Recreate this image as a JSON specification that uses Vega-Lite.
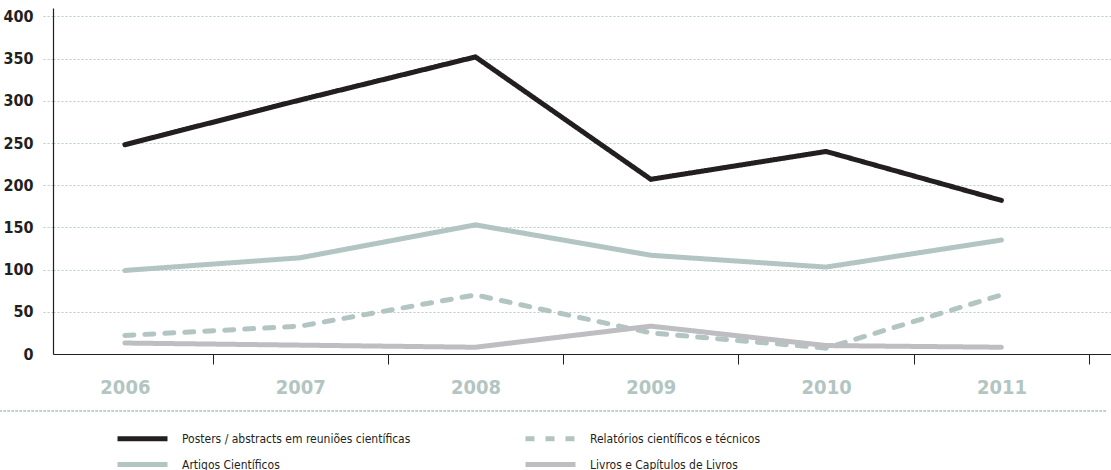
{
  "$schema": "https://vega.github.io/schema/vega-lite/v6.json",
  "width": 1058,
  "height": 346,
  "autosize": "none",
  "padding": {"left": 53, "top": 8, "right": 0, "bottom": 116},
  "background": "white",
  "config": {"view": {"stroke": null}, "font": "DejaVu Sans Condensed, Liberation Sans"},
  "data": {"values": [
    {"year": 2006, "series": "Posters / abstracts em reuniões científicas", "value": 248},
    {"year": 2007, "series": "Posters / abstracts em reuniões científicas", "value": 301},
    {"year": 2008, "series": "Posters / abstracts em reuniões científicas", "value": 352},
    {"year": 2009, "series": "Posters / abstracts em reuniões científicas", "value": 207},
    {"year": 2010, "series": "Posters / abstracts em reuniões científicas", "value": 240},
    {"year": 2011, "series": "Posters / abstracts em reuniões científicas", "value": 182},
    {"year": 2006, "series": "Artigos Científicos", "value": 99},
    {"year": 2007, "series": "Artigos Científicos", "value": 114},
    {"year": 2008, "series": "Artigos Científicos", "value": 153},
    {"year": 2009, "series": "Artigos Científicos", "value": 117},
    {"year": 2010, "series": "Artigos Científicos", "value": 103},
    {"year": 2011, "series": "Artigos Científicos", "value": 135},
    {"year": 2006, "series": "Relatórios científicos e técnicos", "value": 22},
    {"year": 2007, "series": "Relatórios científicos e técnicos", "value": 33},
    {"year": 2008, "series": "Relatórios científicos e técnicos", "value": 70},
    {"year": 2009, "series": "Relatórios científicos e técnicos", "value": 25},
    {"year": 2010, "series": "Relatórios científicos e técnicos", "value": 7},
    {"year": 2011, "series": "Relatórios científicos e técnicos", "value": 70},
    {"year": 2006, "series": "Livros e Capítulos de Livros", "value": 13},
    {"year": 2007, "series": "Livros e Capítulos de Livros", "value": 10.5},
    {"year": 2008, "series": "Livros e Capítulos de Livros", "value": 8},
    {"year": 2009, "series": "Livros e Capítulos de Livros", "value": 33},
    {"year": 2010, "series": "Livros e Capítulos de Livros", "value": 10},
    {"year": 2011, "series": "Livros e Capítulos de Livros", "value": 8}
  ]},
  "layer": [
    {
      "mark": {"type": "rule", "strokeDash": [2, 2], "color": "#c3cfcd", "strokeWidth": 1},
      "encoding": {
        "x": {"datum": 2005.287, "type": "quantitative"},
        "x2": {"datum": 2011.607},
        "y": {"datum": -67.5, "type": "quantitative"}
      }
    },
    {
      "mark": {"type": "line", "strokeWidth": 5, "strokeCap": "round", "strokeJoin": "miter", "clip": false},
      "encoding": {
        "x": {
          "field": "year", "type": "quantitative",
          "scale": {"domain": [2005.59, 2011.625], "nice": false, "zero": false},
          "axis": {
            "title": null,
            "values": [2006, 2006.5, 2007, 2007.5, 2008, 2008.5, 2009, 2009.5, 2010, 2010.5, 2011, 2011.5],
            "labelExpr": "datum.value % 1 === 0 ? format(datum.value, 'd') : ''",
            "labelFontWeight": "bold",
            "labelFontSize": 20,
            "labelColor": "#b3c5c2",
            "labelPadding": 13,
            "labelOverlap": false,
            "labelFlush": false,
            "tickSize": 10,
            "tickColor": "#231f20",
            "tickWidth": 1,
            "tickOpacity": {"condition": {"test": "datum.value % 1 === 0", "value": 0}, "value": 1},
            "domainColor": "#231f20",
            "domainWidth": 1.2,
            "grid": false
          }
        },
        "y": {
          "field": "value", "type": "quantitative",
          "scale": {"domain": [0, 410], "nice": false},
          "axis": {
            "title": null,
            "values": [0, 50, 100, 150, 200, 250, 300, 350, 400],
            "labelFontWeight": "bold",
            "labelFontSize": 16,
            "labelColor": "#231f20",
            "labelPadding": 9,
            "tickSize": 11,
            "tickColor": "#b9cac7",
            "tickDash": [2, 2],
            "tickOpacity": {"condition": {"test": "datum.value === 0", "value": 0}, "value": 1},
            "domainColor": "#231f20",
            "domainWidth": 1.2,
            "grid": true,
            "gridColor": "#b9cac7",
            "gridDash": [2, 2],
            "gridWidth": 1
          }
        },
        "color": {
          "field": "series", "type": "nominal",
          "scale": {
            "domain": ["Posters / abstracts em reuniões científicas", "Artigos Científicos", "Relatórios científicos e técnicos", "Livros e Capítulos de Livros"],
            "range": ["#231f20", "#b3c5c2", "#b3c5c2", "#bebdc1"]
          },
          "legend": {
            "title": null, "orient": "none", "legendX": 82, "legendY": 423,
            "direction": "vertical", "columns": 2, "columnPadding": 104, "rowPadding": 5,
            "symbolType": "M-5,0H5", "symbolSize": 100, "symbolStrokeWidth": 5,
            "labelFontSize": 12, "labelColor": "#231f20", "labelLimit": 500,
            "labelOffset": 32, "padding": 0
          }
        },
        "strokeDash": {
          "field": "series", "type": "nominal",
          "scale": {
            "domain": ["Posters / abstracts em reuniões científicas", "Artigos Científicos", "Relatórios científicos e técnicos", "Livros e Capítulos de Livros"],
            "range": [[1, 0], [1, 0], [9, 11], [1, 0]]
          },
          "legend": {
            "title": null, "orient": "none", "legendX": 82, "legendY": 423,
            "direction": "vertical", "columns": 2, "columnPadding": 104, "rowPadding": 5,
            "symbolType": "M-5,0H5", "symbolSize": 100, "symbolStrokeWidth": 5,
            "labelFontSize": 12, "labelColor": "#231f20", "labelLimit": 500,
            "labelOffset": 32, "padding": 0
          }
        }
      }
    }
  ]
}
